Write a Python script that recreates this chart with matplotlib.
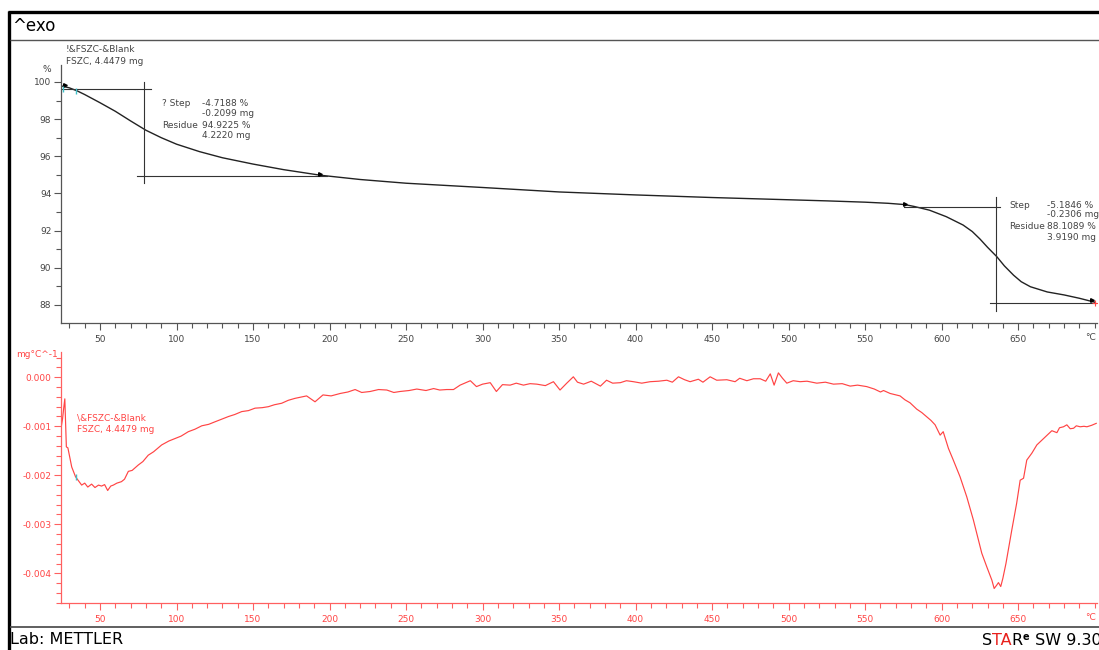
import matplotlib
matplotlib.use("Agg")
import matplotlib.pyplot as plt
from matplotlib.lines import Line2D
from matplotlib.ticker import MultipleLocator, FuncFormatter

plt.rcParams['font.family'] = ['DejaVu Sans']
plt.rcParams['axes.unicode_minus'] = False

# ---------------- data ----------------
tga_temp = [25, 30, 35, 40, 50, 60, 70, 80, 90, 100, 115, 130, 150, 170, 194, 220, 250,
            300, 350, 400, 450, 500, 525, 550, 565, 576, 582, 592, 603, 614, 620, 625,
            630, 636, 641, 647, 652, 658, 669, 680, 690, 700]
tga_pct = [99.78, 99.68, 99.52, 99.32, 98.88, 98.42, 97.9, 97.4, 97.0, 96.65, 96.25, 95.92,
           95.58, 95.28, 94.98, 94.75, 94.55, 94.32, 94.08, 93.92, 93.78, 93.66, 93.6, 93.53,
           93.47, 93.4, 93.3, 93.1, 92.75, 92.3, 91.95, 91.55, 91.1, 90.6, 90.1, 89.6,
           89.25, 88.98, 88.7, 88.54, 88.36, 88.15]

dtg_temp = [24.0, 25.5, 26.3, 27.0, 27.5, 28.0, 29.0, 31.5, 34.0, 38.0, 40.0, 42.0, 44.5, 46.7,
            49.0, 51.0, 53.0, 55.0, 57.0, 58.7, 61.0, 64.0, 66.0, 68.5, 71.0, 75.0, 78.0, 81.5,
            85.0, 88.0, 90.3, 95.0, 99.0, 103.0, 107.7, 112.0, 116.5, 121.0, 125.0, 130.0,
            134.0, 138.0, 142.6, 147.0, 151.3, 156.0, 160.0, 164.0, 168.7, 173.0, 177.4,
            181.8, 185.0, 190.5, 195.7, 201.0, 207.0, 212.0, 216.7, 221.0, 226.5, 232.0,
            237.4, 242.0, 246.0, 252.0, 257.0, 263.0, 268.0, 272.0, 276.6, 281.0, 285.3,
            292.0, 296.0, 300.0, 305.0, 309.0, 313.0, 318.0, 322.0, 326.7, 331.0, 335.4,
            341.0, 346.3, 350.6, 355.0, 359.3, 362.0, 366.0, 371.0, 377.0, 381.0, 385.0,
            390.0, 394.0, 398.6, 404.0, 409.5, 415.0, 420.4, 424.0, 428.0, 432.0, 435.6,
            441.0, 444.0, 448.7, 453.0, 459.6, 465.0, 468.0, 472.7, 477.0, 481.4, 485.0,
            488.0, 490.5, 493.3, 496.0, 498.8, 503.0, 507.5, 512.0, 518.4, 524.0, 529.3,
            535.0, 540.2, 545.0, 551.0, 556.0, 560.0, 562.0, 566.3, 572.8, 576.0, 579.3,
            583.7, 587.0, 590.0, 593.0, 595.7, 599.0, 601.0, 604.4, 607.6, 612.0, 616.4,
            620.7, 624.0, 626.2, 629.5, 632.8, 634.3, 636.0, 637.1, 638.6, 640.0, 642.0,
            645.8, 649.0, 651.3, 653.5, 655.6, 658.9, 662.2, 666.6, 669.0, 672.0, 675.3,
            677.0, 679.6, 681.8, 684.0, 686.2, 688.0, 690.5, 693.0, 694.9, 698.0, 701.0]
dtg_milli = [-1.14, -0.85, -0.62, -0.44, -0.9, -1.42, -1.44, -1.83, -2.03, -2.20, -2.16, -2.24,
             -2.18, -2.25, -2.20, -2.22, -2.19, -2.31, -2.22, -2.20, -2.16, -2.13, -2.08, -1.92,
             -1.90, -1.79, -1.72, -1.59, -1.52, -1.44, -1.38, -1.30, -1.25, -1.20, -1.11, -1.06,
             -0.99, -0.96, -0.91, -0.85, -0.80, -0.76, -0.70, -0.68, -0.63, -0.62, -0.60, -0.56,
             -0.53, -0.47, -0.43, -0.40, -0.38, -0.50, -0.36, -0.38, -0.33, -0.30, -0.25, -0.31,
             -0.29, -0.25, -0.26, -0.31, -0.29, -0.27, -0.24, -0.27, -0.23, -0.26, -0.25, -0.25,
             -0.16, -0.07, -0.19, -0.14, -0.11, -0.29, -0.15, -0.16, -0.12, -0.16, -0.13, -0.14,
             -0.17, -0.09, -0.26, -0.12, 0.01, -0.10, -0.14, -0.08, -0.18, -0.06, -0.12, -0.11,
             -0.07, -0.09, -0.12, -0.09, -0.08, -0.06, -0.10, 0.01, -0.05, -0.09, -0.04, -0.10,
             0.01, -0.06, -0.05, -0.09, -0.02, -0.07, -0.03, -0.03, -0.08, 0.07, -0.16, 0.09,
             -0.02, -0.12, -0.07, -0.09, -0.08, -0.12, -0.10, -0.14, -0.13, -0.18, -0.16, -0.19,
             -0.24, -0.30, -0.27, -0.33, -0.38, -0.46, -0.52, -0.65, -0.72, -0.80, -0.88, -0.97,
             -1.18, -1.11, -1.45, -1.69, -2.03, -2.44, -2.91, -3.32, -3.59, -3.87, -4.14, -4.31,
             -4.24, -4.19, -4.27, -4.10, -3.80, -3.12, -2.57, -2.10, -2.06, -1.69, -1.55, -1.38,
             -1.25, -1.18, -1.09, -1.13, -1.03, -1.01, -0.97, -1.05, -1.04, -0.99, -1.01, -1.00,
             -1.01, -0.98, -0.94]
dtg_vals = [v / 1000.0 for v in dtg_milli]

# step evaluations
step1_pct, step1_mg, resid1_pct, resid1_mg = -4.7188, -0.2099, 94.9225, 4.2220
step2_pct, step2_mg, resid2_pct, resid2_mg = -5.1846, -0.2306, 88.1089, 3.9190
step1_left, step1_right, step1_mid = 27, 194, 78.7
step2_left, step2_right, step2_mid = 576, 698, 635.6

x_ticks = [50, 100, 150, 200, 250, 300, 350, 400, 450, 500, 550, 600, 650]
tga_yticks = [88, 90, 92, 94, 96, 98, 100]
dtg_yticks = [0.0, -0.001, -0.002, -0.003, -0.004]

# ---------------- figure ----------------
W, H = 1099, 650
fig = plt.figure(figsize=(W / 100, H / 100), dpi=100)
fig.patch.set_facecolor('white')


def fx(x):
    return x / W


def fy(y):
    return 1 - y / H


def hline(y, x0, x1, color, lw):
    fig.add_artist(Line2D([fx(x0), fx(x1)], [fy(y), fy(y)], color=color, lw=lw,
                          transform=fig.transFigure, solid_capstyle='butt'))


def vline(x, y0, y1, color, lw):
    fig.add_artist(Line2D([fx(x), fx(x)], [fy(y0), fy(y1)], color=color, lw=lw,
                          transform=fig.transFigure, solid_capstyle='butt'))


# frame
hline(12, 8, W, 'black', 2.4)
vline(9, 11, H, 'black', 2.4)
hline(40, 10, W, '#555555', 1.0)
hline(627, 10, W, '#444444', 1.2)

GRAY = '#555555'
TXT = '#444444'
RED = '#ff4444'
RED_AX = '#ff6060'

xl = (24.5, 701.5)

# ---------------- TGA axes ----------------
ax1 = fig.add_axes([fx(61), fy(323), fx(1097) - fx(61), fy(65) - fy(323)])
ax1.plot(tga_temp, tga_pct, color='#222222', lw=1.0)
ax1.set_xlim(*xl)
ax1.set_ylim(87.03, 100.91)
for s in ['top', 'right']:
    ax1.spines[s].set_visible(False)
for s in ['left', 'bottom']:
    ax1.spines[s].set_color(GRAY)
    ax1.spines[s].set_linewidth(0.9)
ax1.set_xticks(x_ticks)
ax1.xaxis.set_minor_locator(MultipleLocator(10))
ax1.set_yticks(tga_yticks)
ax1.yaxis.set_minor_locator(MultipleLocator(1))
ax1.tick_params(which='both', direction='out', color=GRAY, width=0.8,
                labelsize=6.5, labelcolor=TXT, pad=2)
ax1.tick_params(which='major', length=5)
ax1.tick_params(which='minor', length=3.5)
ax1.tick_params(axis='x', pad=4)
ax1.text(697, -0.04, '°C', transform=ax1.get_xaxis_transform(), ha='center', va='top',
         fontsize=6.5, color=TXT)

# step 1 evaluation lines
lvl1 = resid1_pct - step1_pct
ann = dict(color='#333333', lw=0.8)
ax1.plot([xl[0], 83], [lvl1, lvl1], **ann)
ax1.plot([step1_mid, step1_mid], [100.0, 94.56], **ann)
ax1.plot([74, 198.5], [resid1_pct, resid1_pct], **ann)
# step 2 evaluation lines
lvl2 = resid2_pct - step2_pct
ax1.plot([575.5, 638], [lvl2, lvl2], **ann)
ax1.plot([step2_mid, step2_mid], [93.8, 87.68], **ann)
ax1.plot([631.7, 701], [resid2_pct, resid2_pct], **ann)
# flags
ax1.plot([step1_left, step1_right, step2_left, step2_right],
         [99.85, 95.05, 93.45, 88.25], linestyle='none', marker='>', ms=2.6, color='black')
ax1.plot([700.5], [88.1], marker='+', ms=4, color=RED, mew=0.8)
ax1.plot([25.5, 34], [99.62, 99.5], linestyle='none', marker='|', ms=4, color='#40c0c8', mew=1)

# texts top
fs = 6.5
fig.text(fx(66), fy(50), '!&FSZC-&Blank', fontsize=fs, color=TXT, va='center')
fig.text(fx(66), fy(61), 'FSZC, 4.4479 mg', fontsize=fs, color=TXT, va='center')
fig.text(fx(47), fy(70), '%', fontsize=fs, color=TXT, va='center', ha='center')

fig.text(fx(162), fy(103), '? Step', fontsize=fs, color=TXT, va='center')
fig.text(fx(202), fy(103), f'{step1_pct:.4f} %', fontsize=fs, color=TXT, va='center')
fig.text(fx(202), fy(114), f'{step1_mg:.4f} mg', fontsize=fs, color=TXT, va='center')
fig.text(fx(162), fy(125), 'Residue', fontsize=fs, color=TXT, va='center')
fig.text(fx(202), fy(125), f'{resid1_pct:.4f} %', fontsize=fs, color=TXT, va='center')
fig.text(fx(202), fy(136), f'{resid1_mg:.4f} mg', fontsize=fs, color=TXT, va='center')

fig.text(fx(1009), fy(205), 'Step', fontsize=fs, color=TXT, va='center')
fig.text(fx(1047), fy(205), f'{step2_pct:.4f} %', fontsize=fs, color=TXT, va='center')
fig.text(fx(1047), fy(215), f'{step2_mg:.4f} mg', fontsize=fs, color=TXT, va='center')
fig.text(fx(1009), fy(226), 'Residue', fontsize=fs, color=TXT, va='center')
fig.text(fx(1047), fy(226), f'{resid2_pct:.4f} %', fontsize=fs, color=TXT, va='center')
fig.text(fx(1047), fy(238), f'{resid2_mg:.4f} mg', fontsize=fs, color=TXT, va='center')

# ---------------- DTG axes ----------------
ax2 = fig.add_axes([fx(61), fy(603), fx(1097) - fx(61), fy(352) - fy(603)])
ax2.plot(dtg_temp, dtg_vals, color=RED, lw=0.85)
ax2.set_xlim(*xl)
ax2.set_ylim(-0.004606, 0.000516)
for s in ['top', 'right']:
    ax2.spines[s].set_visible(False)
for s in ['left', 'bottom']:
    ax2.spines[s].set_color(RED_AX)
    ax2.spines[s].set_linewidth(0.9)
ax2.set_xticks(x_ticks)
ax2.xaxis.set_minor_locator(MultipleLocator(10))
ax2.set_yticks(dtg_yticks)
ax2.yaxis.set_minor_locator(MultipleLocator(0.0002))
ax2.yaxis.set_major_formatter(FuncFormatter(lambda v, p: f'{v:.3f}' if abs(v) > 1e-9 else '0.000'))
ax2.tick_params(which='both', direction='out', color=RED_AX, width=0.8,
                labelsize=6.5, labelcolor=RED, pad=2)
ax2.tick_params(which='major', length=5)
ax2.tick_params(which='minor', length=3.5)
ax2.tick_params(axis='x', pad=4)
ax2.text(697, -0.04, '°C', transform=ax2.get_xaxis_transform(), ha='center', va='top',
         fontsize=6.5, color=RED)
ax2.plot([24.0, 34.5], [-0.00114, -0.00203], linestyle='none', marker='|', ms=4,
         color='#40c0c8', mew=1)

fig.text(fx(16), fy(355), 'mg°C^-1', fontsize=fs, color=RED, va='center')
fig.text(fx(77), fy(418), '\\&FSZC-&Blank', fontsize=fs, color=RED, va='center')
fig.text(fx(77), fy(430), 'FSZC, 4.4479 mg', fontsize=fs, color=RED, va='center')

# header/footer
fig.text(fx(12), fy(26), '^exo', fontsize=12, color='black', va='center')
fig.text(fx(10), fy(640), 'Lab: METTLER', fontsize=11.5, color='black', va='center')

# STARe SW 9.30 logo text, placed piece by piece
renderer = fig.canvas.get_renderer()
pieces = [('S', 'black', 11.5, 0), ('TA', '#e8201c', 11.5, 0), ('R', 'black', 11.5, 0),
          ('e', 'black', 7, 5), (' SW 9.30', 'black', 11.5, 0)]
xpos = 982
for txt, col, size, dy in pieces:
    t = fig.text(fx(xpos), fy(645 - dy), txt, fontsize=size, color=col, va='baseline',
                 fontweight='bold' if size == 7 else 'normal')
    bb = t.get_window_extent(renderer=renderer)
    xpos += bb.width

fig.savefig('out.png', dpi=100, facecolor='white')
